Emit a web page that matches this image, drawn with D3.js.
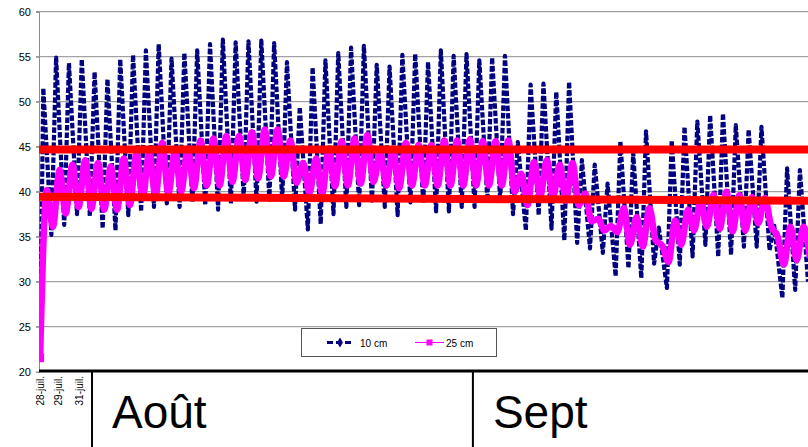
<!DOCTYPE html>
<html>
<head>
<meta charset="utf-8">
<script src="https://cdn.jsdelivr.net/npm/d3@7"></script>
<style>
  body { margin: 0; background: #fff; overflow: hidden; }
  svg { display: block; font-family: Arial, "Liberation Sans", sans-serif; }
</style>
</head>
<body>
<div id="chart"></div>
<script>
// y axis ticks
const yTicks = [20, 25, 30, 35, 40, 45, 50, 55, 60];
// date labels under the axis (day offset from first reading)
const dateLabels = ["28-juil.", "29-juil.", "31-juil."];
const dateDays = [-0.25, 1.2, 2.85];
// month boxes
const months = ["Août", "Sept"];
const monthStartDays = [3.8, 33.5];

// 10 cm : first reading, then daily max / min
const start10 = 22.5;
const max10 = [51.5,54.9,54.3,54.7,53.3,52.5,54.7,55.2,55.7,56.4,
               54.8,55.4,55.7,56.4,56.9,56.6,56.7,56.8,56.5,54.4,
               49.4,53.8,54.6,55.4,56.0,56.2,54.1,53.9,55.2,55.3,
               54.4,55.7,55.1,55.3,54.6,54.9,55.1,45.5,51.9,52.0,
               51.1,52.2,43.5,43.0,40.9,45.6,44.3,46.7,36.0,45.7,
               47.2,47.8,48.5,48.7,47.4,46.9,47.2,36.2,42.6,42.4];
const min10 = [35.2,36.3,37.5,37.3,35.9,35.7,37.4,37.8,38.3,38.7,
               38.3,38.8,38.5,38.0,38.7,39.3,38.9,39.1,39.1,38.0,
               35.8,36.4,37.5,38.3,38.5,39.0,38.3,37.4,38.8,38.7,
               37.8,37.8,38.3,38.3,39.0,39.0,37.5,35.7,37.4,35.9,
               34.6,34.3,33.7,33.2,30.6,31.5,30.4,32.0,29.3,31.9,
               32.8,34.1,32.8,33.0,33.9,33.9,33.5,28.2,29.1,30.0];

// 25 cm : first reading, then daily max / min
const start25 = 21.5;
const max25 = [40.2,42.4,43.0,43.5,43.2,42.8,43.7,44.3,44.4,45.4,
               44.6,44.8,45.7,45.9,46.2,46.2,46.6,46.9,46.9,45.7,
               43.2,43.7,44.8,45.6,45.9,46.3,44.3,44.8,45.4,45.2,
               45.2,45.7,45.7,45.8,45.6,45.6,45.7,42.0,43.3,43.5,
               43.0,43.2,39.8,37.0,36.2,38.2,37.2,38.2,34.0,36.8,
               38.0,39.0,39.7,40.0,39.6,39.4,39.3,35.0,36.1,36.1];
const min25 = [36.1,37.6,38.3,38.1,38.0,38.0,38.5,39.3,39.5,39.8,
               40.0,40.4,40.7,40.7,41.1,41.3,41.5,41.7,41.7,41.0,
               39.8,39.8,40.6,40.7,40.9,41.1,40.7,40.4,40.7,40.7,
               40.7,40.7,40.7,40.7,40.7,40.7,40.0,38.5,39.5,39.4,
               39.0,38.5,36.7,35.7,35.5,34.1,33.9,34.6,32.2,34.1,
               35.7,36.1,35.9,35.6,35.7,36.5,36.2,31.9,32.4,33.0];

// red reference lines: value at left end, value at right end
const refLines = [[44.7, 44.7], [39.45, 39.0]];
const seriesNames = ["10 cm", "25 cm"];

const W = 808, H = 447;
const plot = {left: 39, right: 808, top: 11.7, bottom: 371.7};

const svg = d3.select("#chart").append("svg")
  .attr("width", W).attr("height", H);

const x = d3.scaleLinear().domain([-0.335, 59.63]).range([plot.left, plot.right]);
const y = d3.scaleLinear().domain([20, 60]).range([plot.bottom, plot.top]);

svg.append("clipPath").attr("id", "clip")
  .append("rect")
  .attr("x", plot.left).attr("y", plot.top)
  .attr("width", plot.right - plot.left).attr("height", plot.bottom - plot.top);

// gridlines
svg.append("g")
  .selectAll("line")
  .data(yTicks.slice(1))
  .join("line")
  .attr("x1", plot.left - 3).attr("x2", plot.right)
  .attr("y1", d => y(d)).attr("y2", d => y(d))
  .attr("stroke", "#8c8c8c").attr("stroke-width", 1);

// y axis
const yAxis = d3.axisLeft(y).tickValues(yTicks).tickSize(3).tickPadding(5);
const ag = svg.append("g").attr("transform", `translate(${plot.left},0)`).call(yAxis);
ag.select(".domain").attr("stroke", "#8c8c8c");
ag.selectAll(".tick line").attr("stroke", "#8c8c8c");
ag.selectAll("text").attr("font-size", 11).attr("fill", "#000")
  .attr("font-family", "Arial, 'Liberation Sans', sans-serif");

// build series from daily extremes
function series(start, maxs, mins, peakT, lowT) {
  const pts = [[-0.25, start]];
  maxs.forEach((v, i) => {
    pts.push([i + peakT, v]);
    pts.push([i + lowT, mins[i]]);
  });
  return pts;
}
const s10 = series(start10, max10, min10, 0, 0.63);
const s25 = series(start25, max25, min25, 0.27, 0.75);

const line = d3.line().x(d => x(d[0])).y(d => y(d[1]));
const smooth = d3.line().x(d => x(d[0])).y(d => y(d[1])).curve(d3.curveMonotoneX);

const g = svg.append("g").attr("clip-path", "url(#clip)");

g.append("path")
  .datum(s10)
  .attr("d", line)
  .attr("fill", "none")
  .attr("stroke", "#000080")
  .attr("stroke-width", 4.2)
  .attr("stroke-dasharray", "5.5,2")
  .attr("stroke-linejoin", "round");

g.append("path")
  .datum(s25)
  .attr("d", smooth)
  .attr("fill", "none")
  .attr("stroke", "#ff00ff")
  .attr("stroke-width", 6.5)
  .attr("stroke-linejoin", "round")
  .attr("stroke-linecap", "square");

// first 25 cm readings show as separate squares on the rise
g.selectAll(".sq")
  .data([s25[0]])
  .join("rect")
  .attr("class", "sq")
  .attr("x", d => x(d[0]) - 3).attr("y", d => y(d[1]) - 5)
  .attr("width", 7).attr("height", 9)
  .attr("fill", "#ff00ff");

// red lines
g.selectAll(".ref")
  .data(refLines)
  .join("line")
  .attr("class", "ref")
  .attr("x1", x(-0.335)).attr("x2", x(59.63))
  .attr("y1", d => y(d[0])).attr("y2", d => y(d[1]))
  .attr("stroke", "#ff0000").attr("stroke-width", 8);

// legend
const lg = svg.append("g");
lg.append("rect")
  .attr("x", 301.5).attr("y", 328.5).attr("width", 195).attr("height", 28)
  .attr("fill", "#fff").attr("stroke", "#555").attr("stroke-width", 1);
lg.append("line")
  .attr("x1", 327).attr("x2", 352).attr("y1", 342.5).attr("y2", 342.5)
  .attr("stroke", "#000080").attr("stroke-width", 3).attr("stroke-dasharray", "6,3");
lg.append("path")
  .attr("d", d3.symbol(d3.symbolDiamond, 30)())
  .attr("transform", "translate(340,342.5)")
  .attr("fill", "#000080");
lg.append("line")
  .attr("x1", 415).attr("x2", 444).attr("y1", 342.5).attr("y2", 342.5)
  .attr("stroke", "#ff00ff").attr("stroke-width", 1);
lg.append("rect")
  .attr("x", 426.5).attr("y", 339.5).attr("width", 6).attr("height", 6)
  .attr("fill", "#ff00ff");
lg.selectAll("text")
  .data(seriesNames)
  .join("text")
  .attr("x", (d, i) => i === 0 ? 360 : 446)
  .attr("y", 346.5)
  .attr("font-size", 10)
  .text(d => d);

// bottom axis band
svg.append("line")
  .attr("x1", plot.left).attr("x2", W)
  .attr("y1", 371).attr("y2", 371)
  .attr("stroke", "#000").attr("stroke-width", 3);

svg.append("g")
  .selectAll("text")
  .data(dateLabels)
  .join("text")
  .attr("transform", (d, i) => `translate(${x(dateDays[i]) + 3.5},376) rotate(-90)`)
  .attr("text-anchor", "end")
  .attr("font-size", 10)
  .text(d => d);

const mg = svg.append("g");
mg.selectAll("line")
  .data(monthStartDays)
  .join("line")
  .attr("x1", d => x(d)).attr("x2", d => x(d))
  .attr("y1", 371).attr("y2", H)
  .attr("stroke", "#000").attr("stroke-width", 2);
mg.selectAll("text")
  .data(months)
  .join("text")
  .attr("x", (d, i) => x(monthStartDays[i]) + 20)
  .attr("y", 428)
  .attr("font-size", 46)
  .text(d => d);
</script>
</body>
</html>
